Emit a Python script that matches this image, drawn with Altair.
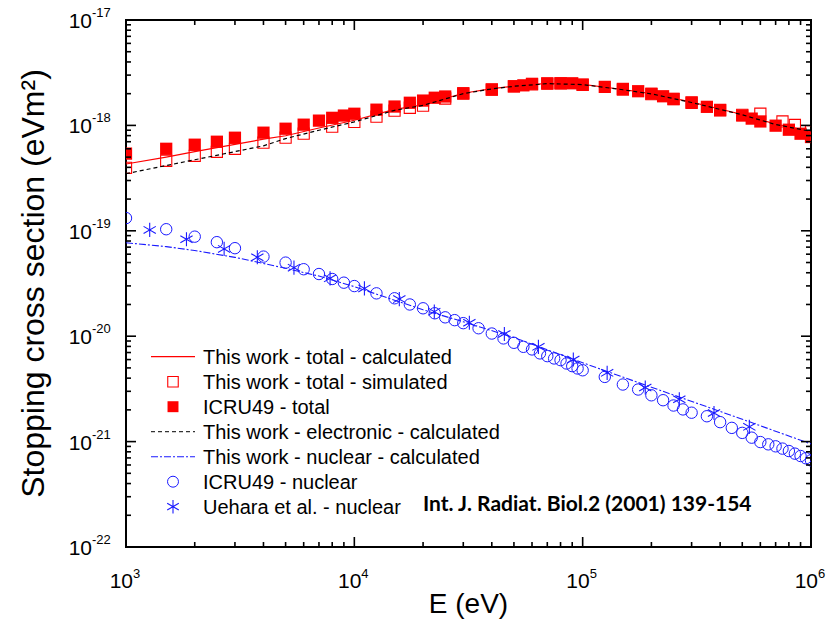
import altair as alt
import pandas as pd

# ---------------- data ----------------
# ICRU49 - total (filled squares)
icru_tot_E = [1000, 1500, 2000, 2500, 3000, 4000, 5000, 6000, 7000, 8000, 9000, 10000,
              12500, 15000, 17500, 20000, 22500, 25000, 30000,
              40000, 50000, 55000, 60000, 70000, 80000, 90000, 100000,
              125000, 150000, 175000, 200000, 225000, 250000, 300000, 350000, 400000,
              500000, 550000, 600000, 700000, 800000, 900000, 1000000]
icru_tot_S = [5.4e-19, 6.0e-19, 6.56e-19, 7.0e-19, 7.64e-19, 8.53e-19, 9.3e-19, 1.016e-18, 1.11e-18, 1.18e-18, 1.24e-18, 1.29e-18,
              1.41e-18, 1.51e-18, 1.64e-18, 1.72e-18, 1.83e-18, 1.88e-18, 2.02e-18,
              2.18e-18, 2.35e-18, 2.40e-18, 2.48e-18, 2.49e-18, 2.51e-18, 2.51e-18, 2.44e-18,
              2.32e-18, 2.22e-18, 2.11e-18, 2.0e-18, 1.89e-18, 1.78e-18, 1.65e-18, 1.50e-18, 1.39e-18,
              1.24e-18, 1.16e-18, 1.09e-18, 9.94e-19, 9.1e-19, 8.34e-19, 7.76e-19]

# This work - total - simulated (open squares)
sim_E = [1000, 1500, 2000, 2500, 3000, 4000, 5000, 6000, 8000, 10000, 12500, 15000, 17500, 20000,
         25000, 30000, 40000, 50000, 60000, 70000, 80000, 100000, 150000, 200000, 250000, 300000,
         400000, 500000, 600000, 750000, 850000, 1000000]
sim_S = [3.96e-19, 4.62e-19, 5.15e-19, 5.62e-19, 6.0e-19, 6.85e-19, 7.64e-19, 8.34e-19, 9.72e-19, 1.08e-18, 1.21e-18, 1.38e-18, 1.47e-18, 1.54e-18,
         1.80e-18, 2.0e-18, 2.2e-18, 2.35e-18, 2.45e-18, 2.5e-18, 2.5e-18, 2.42e-18, 2.18e-18, 1.98e-18, 1.78e-18, 1.64e-18,
         1.40e-18, 1.26e-18, 1.29e-18, 1.09e-18, 1.01e-18, 8.8e-19]

# Calculated curves
calc_E = [1000, 1500, 2000, 3000, 4000, 5000, 7000, 10000, 15000, 20000, 30000, 40000, 50000,
          70000, 100000, 150000, 200000, 300000, 500000, 700000, 1000000]
total_calc_S = [4.3e-19, 5.0e-19, 5.64e-19, 6.6e-19, 7.4e-19, 7.98e-19, 9.44e-19, 1.12e-18, 1.42e-18, 1.57e-18, 2.02e-18, 2.23e-18, 2.36e-18,
                2.5e-18, 2.45e-18, 2.19e-18, 2.0e-18, 1.66e-18, 1.27e-18, 1.03e-18, 8.8e-19]
elec_calc_S = [3.48e-19, 4.16e-19, 4.72e-19, 5.64e-19, 6.4e-19, 7.5e-19, 9.0e-19, 1.08e-18, 1.39e-18, 1.55e-18, 2.0e-18, 2.22e-18, 2.35e-18,
               2.49e-18, 2.44e-18, 2.18e-18, 1.99e-18, 1.65e-18, 1.26e-18, 1.02e-18, 8.77e-19]

nuc_calc_E = [1000, 1500, 2000, 3000, 5000, 7000, 10000, 20000, 30000, 50000, 100000, 200000, 500000, 1000000]
nuc_calc_S = [7.7e-20, 7.08e-20, 6.5e-20, 5.6e-20, 4.41e-20, 3.72e-20, 2.95e-20, 1.78e-20, 1.37e-20, 9.7e-21, 5.6e-21, 3.28e-21, 1.63e-21, 9.5e-22]

# ICRU49 - nuclear (open circles)
icru_nuc_E = [1000, 1500, 2000, 2500, 3000, 4000, 5000, 6000, 7000, 8000, 9000, 10000,
              12500, 15000, 17500, 20000, 22500, 25000, 27500, 30000,
              35000, 40000, 45000, 50000, 55000, 60000, 65000, 70000, 75000, 80000, 85000, 90000, 95000, 100000,
              125000, 150000, 175000, 200000, 225000, 250000, 275000, 300000,
              350000, 400000, 450000, 500000, 550000, 600000, 650000, 700000, 750000, 800000, 850000, 900000, 950000, 1000000]
icru_nuc_S = [1.32e-19, 1.035e-19, 8.8e-20, 7.8e-20, 6.84e-20, 5.69e-20, 4.99e-20, 4.32e-20, 3.89e-20, 3.49e-20, 3.22e-20, 2.99e-20,
              2.55e-20, 2.29e-20, 2.0e-20, 1.84e-20, 1.65e-20, 1.51e-20, 1.42e-20, 1.33e-20,
              1.19e-20, 1.06e-20, 9.53e-21, 8.66e-21, 7.93e-21, 7.49e-21, 6.87e-21, 6.47e-21, 6.15e-21, 5.93e-21, 5.51e-21, 5.2e-21, 4.94e-21, 4.75e-21,
              4.11e-21, 3.48e-21, 3.12e-21, 2.75e-21, 2.47e-21, 2.2e-21, 2.02e-21, 1.88e-21,
              1.74e-21, 1.53e-21, 1.35e-21, 1.21e-21, 1.09e-21, 9.9e-22, 9.42e-22, 9.02e-22, 8.58e-22, 8.14e-22, 7.69e-22, 7.3e-22, 6.95e-22, 6.64e-22]

# Uehara et al. - nuclear (asterisks)
uehara_E = [1270, 1840, 2690, 3760, 5440, 7830, 11070, 15740, 22400, 31900, 45400, 64000, 91000,
            128000, 188000, 265000, 376000, 537000]
uehara_S = [1.02e-19, 8.32e-20, 6.73e-20, 5.61e-20, 4.47e-20, 3.54e-20, 2.84e-20, 2.25e-20, 1.71e-20, 1.34e-20, 1.05e-20, 7.93e-21, 6.01e-21,
            4.49e-21, 3.26e-21, 2.52e-21, 1.87e-21, 1.38e-21]

# Axis ticks and labels
x_major = [1e3, 1e4, 1e5, 1e6]
x_exp = ["3", "4", "5", "6"]
y_major = [1e-22, 1e-21, 1e-20, 1e-19, 1e-18, 1e-17]
y_exp = ["-22", "-21", "-20", "-19", "-18", "-17"]
x_minor = [k * 10.0 ** n for n in range(3, 6) for k in range(2, 10)]
y_minor = [k * 10.0 ** n for n in range(-22, -17) for k in range(2, 10)]

legend_labels = [
    "This work - total - calculated",
    "This work - total - simulated",
    "ICRU49 - total",
    "This work - electronic - calculated",
    "This work - nuclear - calculated",
    "ICRU49 - nuclear",
    "Uehara et al. - nuclear",
]
note_text = "Int. J. Radiat. Biol.2 (2001) 139-154"
x_title = "E (eV)"
y_title = "Stopping cross section (eVm\u00b2)"

# ---------------- styling ----------------
W, H = 685, 527
PADL, PADT = 126, 20
FONT = "Liberation Sans, Arial, sans-serif"
RED = "#ff0000"
BLUE = "#1a1aff"
ASTER = "M0,-1L0,1M-0.866,-0.5L0.866,0.5M-0.866,0.5L0.866,-0.5"

xs = alt.Scale(type="log", domain=[1e3, 1e6])
ys = alt.Scale(type="log", domain=[1e-22, 1e-17])


def XE(f="E"):
    return alt.X(f + ":Q", scale=xs, axis=None)


def YS(f="S"):
    return alt.Y(f + ":Q", scale=ys, axis=None)


def df(E, S):
    return pd.DataFrame({"E": E, "S": S})


one = pd.DataFrame({"a": [0]})

layers = []

# data marks
layers.append(alt.Chart(df(sim_E, sim_S)).mark_point(
    shape="square", filled=False, size=125, stroke=RED, strokeWidth=1.1, opacity=1, clip=True
).encode(x=XE(), y=YS()))
layers.append(alt.Chart(df(icru_tot_E, icru_tot_S)).mark_point(
    shape="square", filled=True, size=150, fill=RED, strokeWidth=0, opacity=1, clip=True
).encode(x=XE(), y=YS()))
layers.append(alt.Chart(df(icru_nuc_E, icru_nuc_S)).mark_point(
    shape="circle", filled=False, size=130, stroke=BLUE, strokeWidth=1, opacity=1, clip=True
).encode(x=XE(), y=YS()))
layers.append(alt.Chart(df(uehara_E, uehara_S)).mark_point(
    shape=ASTER, filled=False, size=200, stroke=BLUE, strokeWidth=1.1, opacity=1, clip=True
).encode(x=XE(), y=YS()))
layers.append(alt.Chart(df(calc_E, total_calc_S)).mark_line(
    color=RED, strokeWidth=1.2, clip=True
).encode(x=XE(), y=YS()))
layers.append(alt.Chart(df(calc_E, elec_calc_S)).mark_line(
    color="black", strokeWidth=1.2, strokeDash=[4, 3], clip=True
).encode(x=XE(), y=YS()))
layers.append(alt.Chart(df(nuc_calc_E, nuc_calc_S)).mark_line(
    color=BLUE, strokeWidth=1.1, strokeDash=[7, 2, 2, 2], clip=True
).encode(x=XE(), y=YS()))

# inward ticks on all four sides
MAJ, MIN = 10, 5
for vals, L in ((y_major, MAJ), (y_minor, MIN)):
    d = pd.DataFrame({"v": vals})
    layers.append(alt.Chart(d).mark_rule(color="black", strokeWidth=1.6).encode(
        y=YS("v"), x=alt.value(0), x2=alt.value(L)))
    layers.append(alt.Chart(d).mark_rule(color="black", strokeWidth=1.6).encode(
        y=YS("v"), x=alt.value(W), x2=alt.value(W - L)))
for vals, L in ((x_major, MAJ), (x_minor, MIN)):
    d = pd.DataFrame({"v": vals})
    layers.append(alt.Chart(d).mark_rule(color="black", strokeWidth=1.6).encode(
        x=XE("v"), y=alt.value(H), y2=alt.value(H - L)))
    layers.append(alt.Chart(d).mark_rule(color="black", strokeWidth=1.6).encode(
        x=XE("v"), y=alt.value(0), y2=alt.value(L)))

# tick labels (10 with superscript exponent)
xl = pd.DataFrame({"v": x_major, "e": x_exp})
layers.append(alt.Chart(xl).mark_text(align="right", baseline="alphabetic", fontSize=21, font=FONT, dx=7, color="black")
              .encode(x=XE("v"), y=alt.value(568), text=alt.value("10")))
layers.append(alt.Chart(xl).mark_text(align="left", baseline="alphabetic", fontSize=13, font=FONT, dx=7, color="black")
              .encode(x=XE("v"), y=alt.value(558), text="e:N"))
yl = pd.DataFrame({"v": y_major, "e": y_exp})
layers.append(alt.Chart(yl).mark_text(align="right", baseline="alphabetic", fontSize=21, font=FONT, dy=8, color="black")
              .encode(y=YS("v"), x=alt.value(-34), text=alt.value("10")))
layers.append(alt.Chart(yl).mark_text(align="left", baseline="alphabetic", fontSize=13, font=FONT, dy=-3, color="black")
              .encode(y=YS("v"), x=alt.value(-34), text="e:N"))

# axis titles
layers.append(alt.Chart(one).mark_text(align="center", baseline="alphabetic", fontSize=28, font=FONT, color="black")
              .encode(x=alt.value(W / 2), y=alt.value(593), text=alt.value(x_title)))
layers.append(alt.Chart(one).mark_text(align="center", baseline="middle", fontSize=32, font=FONT, angle=270, color="black")
              .encode(x=alt.value(-92), y=alt.value(H / 2), text=alt.value(y_title)))

# legend
LX0, LX1, LXS, LXT = 25, 69, 47, 77
LY0, LDY = 336.7, 25
for i, lab in enumerate(legend_labels):
    yc = LY0 + LDY * i
    layers.append(alt.Chart(one).mark_text(align="left", baseline="alphabetic", fontSize=20, font=FONT, color="black")
                  .encode(x=alt.value(LXT), y=alt.value(yc + 7.3), text=alt.value(lab)))
    if i == 0:
        m = alt.Chart(one).mark_rule(color=RED, strokeWidth=1.2)
    elif i == 3:
        m = alt.Chart(one).mark_rule(color="#333333", strokeWidth=1.2, strokeDash=[4, 3])
    elif i == 4:
        m = alt.Chart(one).mark_rule(color=BLUE, strokeWidth=1.1, strokeDash=[7, 2, 2, 2])
    else:
        m = None
    if m is not None:
        layers.append(m.encode(x=alt.value(LX0), x2=alt.value(LX1), y=alt.value(yc)))
    else:
        if i == 1:
            p = alt.Chart(one).mark_point(shape="square", filled=False, size=110, stroke=RED, strokeWidth=1.1, opacity=1)
        elif i == 2:
            p = alt.Chart(one).mark_point(shape="square", filled=True, size=120, fill=RED, strokeWidth=0, opacity=1)
        elif i == 5:
            p = alt.Chart(one).mark_point(shape="circle", filled=False, size=120, stroke=BLUE, strokeWidth=1, opacity=1)
        else:
            p = alt.Chart(one).mark_point(shape=ASTER, filled=False, size=180, stroke=BLUE, strokeWidth=1.1, opacity=1)
        layers.append(p.encode(x=alt.value(LXS), y=alt.value(yc)))

# reference note
layers.append(alt.Chart(one).mark_text(align="left", baseline="alphabetic", fontSize=21, font="Lato", fontWeight="bold", color="black")
              .encode(x=alt.value(297), y=alt.value(491), text=alt.value(note_text)))

chart = alt.layer(*layers).properties(
    width=W, height=H,
    autosize=alt.AutoSizeParams(type="none"),
    padding={"left": PADL, "top": PADT, "right": 828 - PADL - W, "bottom": 629 - PADT - H},
    background="white",
).configure_view(stroke="black", strokeWidth=2)

chart.save("out.html", embed_options={"renderer": "svg", "actions": False})
